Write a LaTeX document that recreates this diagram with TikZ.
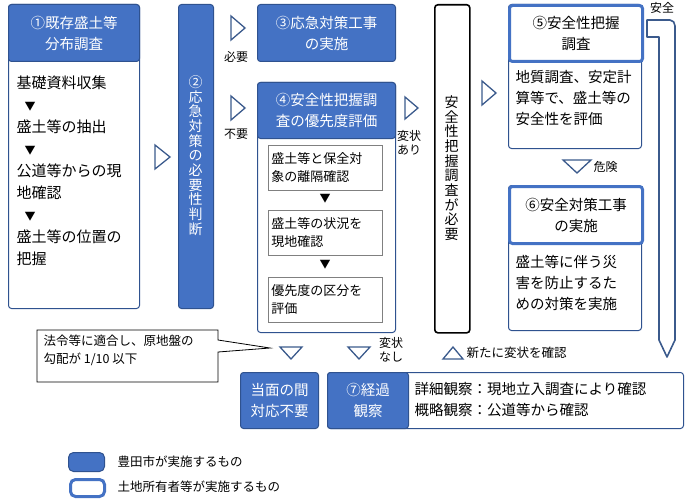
\documentclass[tikz,border=0pt]{standalone}
\usepackage{fontspec}
\setmainfont{Noto Sans CJK JP}
\usetikzlibrary{positioning}
\definecolor{bl}{HTML}{4472C4}
\definecolor{dbl}{HTML}{2F528F}
\definecolor{tri}{HTML}{3B5A8C}
\tikzset{
 cityhead/.style={fill=bl,draw=dbl,line width=1pt,rounded corners=3pt,text=white,align=center,anchor=north west,inner sep=0pt,font=\fontsize{14.5}{21}\selectfont},
 outline/.style={draw=dbl,line width=1pt,rounded corners=3pt,anchor=north west,inner sep=0pt,fill=white},
 ownhead/.style={fill=white,draw=bl,line width=3pt,rounded corners=3pt,align=center,anchor=north west,inner sep=0pt,font=\fontsize{14.5}{21}\selectfont},
 inner/.style={draw=gray,line width=0.8pt,anchor=north west,inner sep=0pt,align=left,text width=114pt,font=\fontsize{13}{18}\selectfont},
 tri/.style={draw=tri,line width=1.3pt,line join=miter},
 lbl/.style={font=\fontsize{12}{14}\selectfont,align=left},
 body/.style={font=\fontsize{14.5}{21}\selectfont,align=left,anchor=north west},
 vtext/.style={align=center,font=\fontsize{14}{14.7}\selectfont}
}
\begin{document}
\begin{tikzpicture}[x=1pt,y=-1pt]
\useasboundingbox (0,0) rectangle (690,500);
% Box 1
\node[outline,minimum width=131pt,minimum height=304pt] (b1) at (8,4) {};
\node[cityhead,minimum width=131pt,minimum height=57pt] (h1) at (8,4) {①既存盛土等\\分布調査};
\node[body,font=\fontsize{15}{22}\selectfont] (t1) at (13,72) {基礎資料収集\\\hspace{8pt}\fontsize{11}{10}\selectfont▼\\盛土等の抽出\\\hspace{8pt}\fontsize{11}{10}\selectfont▼\\公道等からの現\\地確認\\\hspace{8pt}\fontsize{11}{10}\selectfont▼\\盛土等の位置の\\把握};
\draw[tri] (155,145) -- (170,157) -- (155,169) -- cycle;
% Box 2
\node[cityhead,minimum width=35pt,minimum height=304pt] (b2) at (178,4) {};
\node[vtext,text=white,anchor=north] (t2) at (195.5,72) {②\\応\\急\\対\\策\\の\\必\\要\\性\\判\\断};
% triangles to 3/4
\draw[tri] (231,16) -- (245,28) -- (231,40) -- cycle;
\node[lbl] (l1) at (236,57) {必要};
\draw[tri] (231,96) -- (245,108) -- (231,120) -- cycle;
\node[lbl] (l2) at (236,134) {不要};
% Box 3
\node[cityhead,minimum width=138pt,minimum height=57pt] (b3) at (257,4) {③応急対策工事\\の実施};
% Box 4
\node[outline,minimum width=138pt,minimum height=250pt] (b4) at (257,82) {};
\node[cityhead,minimum width=138pt,minimum height=56pt] (h4) at (257,82) {④安全性把握調\\査の優先度評価};
\node[inner,minimum height=45pt] (i1) at (268,145) {\hspace{3pt}盛土等と保全対\\\hspace{3pt}象の離隔確認};
\node[inner,minimum height=45pt] (i2) at (268,210) {\hspace{3pt}盛土等の状況を\\\hspace{3pt}現地確認};
\node[inner,minimum height=45pt] (i3) at (268,277) {\hspace{3pt}優先度の区分を\\\hspace{3pt}評価};
\node[font=\fontsize{11}{10}\selectfont] (a1) at (325,199) {▼};
\node[font=\fontsize{11}{10}\selectfont] (a2) at (325,265) {▼};
\draw[tri] (405,97) -- (418,108) -- (405,119) -- cycle;
\node[lbl] (l3) at (409,143) {変状\\あり};
% black box
\node[draw=black,line width=1.6pt,rounded corners=3pt,minimum width=35pt,minimum height=328pt,anchor=north west] (b8) at (434,4) {};
\node[vtext,anchor=north] (t8) at (451.5,92) {安\\全\\性\\把\\握\\調\\査\\が\\必\\要};
\draw[tri] (482,81) -- (496,93) -- (482,105) -- cycle;
% Box 5
\node[outline,minimum width=133pt,minimum height=144pt] (b5) at (508,4) {};
\node[ownhead,minimum width=133pt,minimum height=56pt] (h5) at (508,4) {⑤安全性把握\\調査};
\node[body] (t5) at (512,67) {地質調査、安定計\\算等で、盛土等の\\安全性を評価};
\draw[tri] (563,160) -- (591,160) -- (577,173) -- cycle;
\node[lbl,anchor=west] (l4) at (590,167) {危険};
% Box 6
\node[outline,minimum width=133pt,minimum height=145pt] (b6) at (508,185) {};
\node[ownhead,minimum width=133pt,minimum height=57pt] (h6) at (508,185) {⑥安全対策工事\\の実施};
\node[body] (t6) at (512,252) {盛土等に伴う災\\害を防止するた\\めの対策を実施};
% right return arrow
\draw[tri,line width=1.6pt,line join=round] (647,20) -- (670,20) to[out=0,in=90] (675,26) -- (675,340) -- (667,357) -- (659,340) -- (659,37) -- (647,37) -- cycle;
\node[lbl] (l5) at (662,8) {安全};
% callout
\draw[black,line width=0.8pt,fill=white] (37,330) -- (218,330) -- (218,340) -- (270,348) -- (218,352) -- (218,382) -- (37,382) -- cycle;
\node[lbl,anchor=north west,font=\fontsize{12.5}{18}\selectfont] (c1) at (40,331) {法令等に適合し、原地盤の\\勾配が 1/10 以下};
\draw[tri] (280,347) -- (302,347) -- (291,359) -- cycle;
\draw[tri] (348,347) -- (370,347) -- (359,359) -- cycle;
\node[lbl] (l6) at (391,350) {変状\\なし};
\draw[tri] (443,359) -- (463,359) -- (453,347) -- cycle;
\node[lbl,anchor=west,font=\fontsize{12.5}{14}\selectfont] (l7) at (463,353) {新たに変状を確認};
% bottom boxes
\node[cityhead,minimum width=78pt,minimum height=56pt] (b9) at (240,372) {当面の間\\対応不要};
\node[outline,minimum width=356pt,minimum height=56pt] (b7) at (327,372) {};
\node[cityhead,minimum width=81pt,minimum height=56pt] (h7) at (327,372) {⑦経過\\観察};
\node[body,font=\fontsize{14.5}{21}\selectfont] (t7) at (411,379) {詳細観察：現地立入調査により確認\\概略観察：公道等から確認};
% legend
\node[cityhead,minimum width=36pt,minimum height=19pt,rounded corners=5pt] (g1) at (68,452) {};
\node[lbl,anchor=west,font=\fontsize{12.5}{14}\selectfont] (g1t) at (114,462) {豊田市が実施するもの};
\node[ownhead,minimum width=34pt,minimum height=17pt,rounded corners=5pt] (g2) at (69,478) {};
\node[lbl,anchor=west,font=\fontsize{12.5}{14}\selectfont] (g2t) at (114,487) {土地所有者等が実施するもの};
\end{tikzpicture}
\end{document}
